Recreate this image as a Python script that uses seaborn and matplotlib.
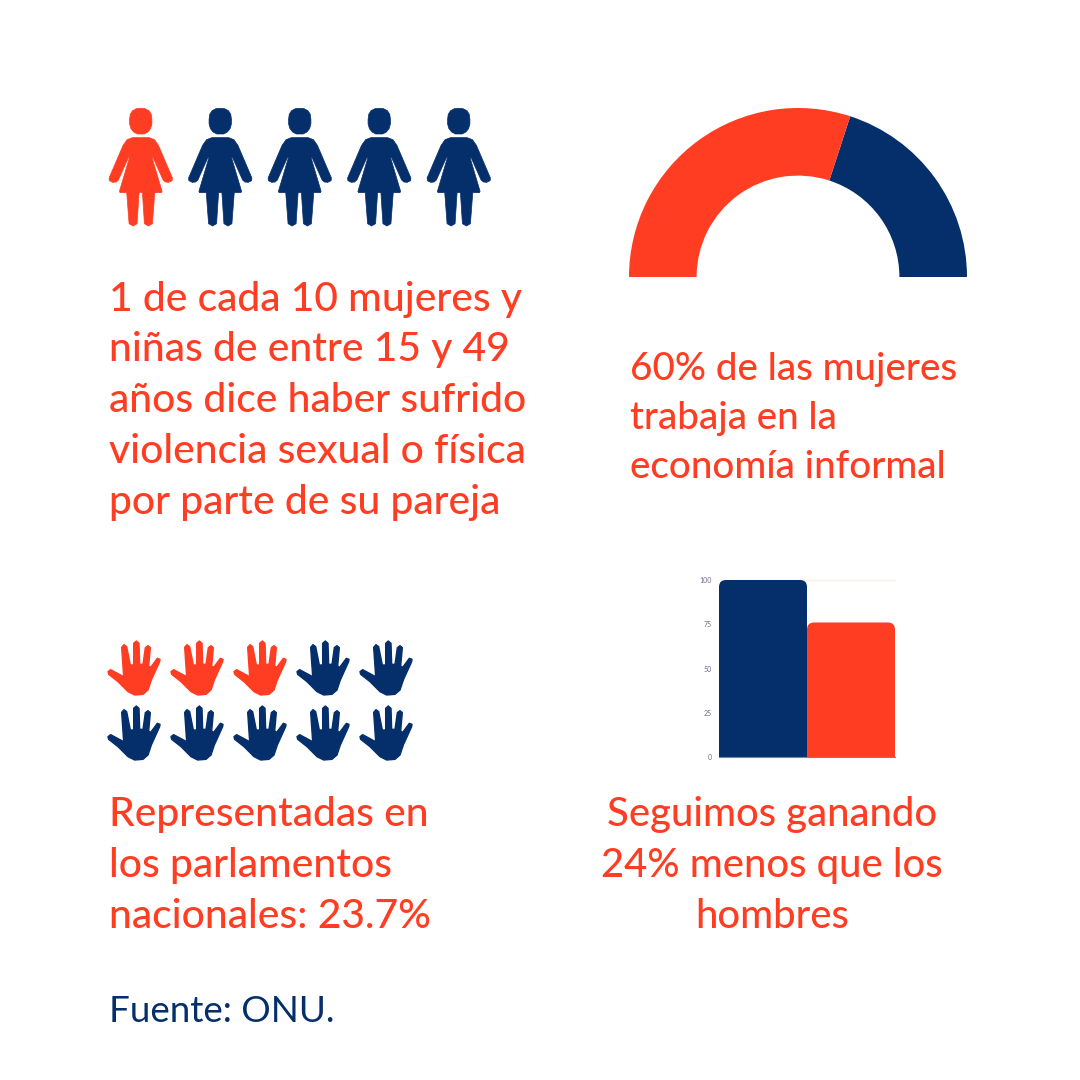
import matplotlib
matplotlib.use("Agg")
import matplotlib.pyplot as plt
from matplotlib.patches import FancyBboxPatch
from matplotlib.path import Path
from matplotlib.transforms import IdentityTransform
import pandas as pd
import seaborn as sns

RED = "#FF3D22"
NAVY = "#042F6B"
FONT = "Lato"

def pixel_axes(left, top, right, bottom):
    """
    Adds an axes placed by pixel edges of the 1080x1080 canvas.
    """
    return plt.axes([left / 1080, 1 - bottom / 1080, (right - left) / 1080, (bottom - top) / 1080])

def outline_marker(points, cx, cy):
    """
    Builds a closed marker path from outline points traced off the picture.
    """
    verts = [(x - cx, cy - y) for x, y in points]
    return Path(verts + [verts[0]], closed=True)

def pictogram(ax, rows, marker, size, n_cols, n_rows, edge=0.5):
    """
    Draws a grid of icons with seaborn, one point per person or hand.
    """
    sns.scatterplot(data=rows, x="col", y="row", hue="group", hue_order=["si", "no"],
                    palette={"si": RED, "no": NAVY}, marker=marker, s=size,
                    linewidth=edge, edgecolor="face", legend=False, ax=ax)
    ax.set_xlim(-0.5, n_cols - 0.5)
    ax.set_ylim(n_rows - 0.5, -0.5)
    ax.axis("off")

def woman_marker():
    """
    Silhouette of a woman: head and body with a skirt.
    """
    right = [(123, 127), (148, 127), (164, 133), (176, 150), (218, 248), (217, 256), (207, 261),
             (197, 260), (190, 254), (160, 187), (157, 187), (187, 288), (185, 292), (165, 292),
             (158, 385), (146, 392), (134, 385), (128, 292)]
    left = [(246 - x, y) for x, y in reversed(right[1:])]
    body = outline_marker(right + left, 123, 215)
    head = outline_marker([(123, 39), (136, 40), (148, 46), (155, 57), (157, 72), (157, 86), (153, 100),
                           (145, 110), (134, 116), (113, 116), (102, 110), (94, 100), (90, 86),
                           (90, 72), (92, 57), (99, 46), (111, 40)], 123.5, 215)
    return Path.make_compound_path(head, body)

def hand_marker():
    """
    Open hand with the thumb to the left.
    """
    points = [(25, 125), (33, 119), (72, 140), (66, 52), (73, 44), (81, 50), (92, 105), (102, 105),
              (102, 40), (110, 33), (118, 40), (120, 103), (130, 103), (137, 53), (145, 47), (152, 53),
              (147, 108), (153, 112), (173, 85), (181, 88), (180, 95), (155, 150), (145, 180),
              (130, 193), (105, 195), (85, 185), (55, 155), (27, 133)]
    return outline_marker(points, 103, 114)

def gauge(ax, values):
    """
    Half donut: the lower half of the pie is left empty.
    """
    # informal share runs from the left end of the arc
    ax.pie([values[1], values[0], sum(values)], startangle=0, colors=[NAVY, RED, "none"],
           radius=1, wedgeprops=dict(width=0.4, linewidth=0))
    ax.set_xlim(-1, 1)
    ax.set_ylim(-1, 1)

def wage_bars(ax, wages):
    """
    Two touching bars with rounded top corners and tiny tick labels.
    """
    sns.barplot(data=wages, x="grupo", y="salario", hue="grupo", palette=[NAVY, RED],
                width=1, saturation=1, legend=False, ax=ax)
    ax.set_xlim(-0.5, 1.5)
    ax.set_ylim(0, 100)
    ax.set_yticks([0, 25, 50, 75, 100])
    ax.set_xticks([])
    ax.set_xlabel("")
    ax.set_ylabel("")
    ax.axhline(100, color="#FFEFEC", linewidth=1, zorder=0, clip_on=False)
    ax.tick_params(axis="y", length=0, pad=5, labelsize=5, labelcolor="#75668F")
    sns.despine(ax=ax, left=True, top=True, right=True)
    ax.spines["bottom"].set_color("#6F86A8")
    ax.figure.canvas.draw()
    for bar in ax.patches:
        box = bar.get_window_extent()
        # extra height below so only the top corners get rounded
        clip = FancyBboxPatch((box.x0 + 7, box.y0 - 20), box.width - 14, box.height + 13,
                              boxstyle="round,pad=7,rounding_size=7", transform=IdentityTransform())
        bar.set_clip_path(clip)

def write_lines(lines, x, baselines, color=RED, size=29.3, ha="left", weight="medium"):
    """
    Writes one text block, a line per baseline given in pixels.
    """
    for line, base in zip(lines, baselines):
        plt.figtext(x / 1080, 1 - base / 1080, line, color=color, fontsize=size, ha=ha,
                    va="baseline", family=FONT, weight=weight)

plt.rcParams["font.family"] = [FONT, "DejaVu Sans"]
plt.figure(figsize=(10.8, 10.8), dpi=100, facecolor="white")

women = pd.DataFrame({"col": [0, 1, 2, 3, 4], "row": [0, 0, 0, 0, 0],
                      "group": ["si", "no", "no", "no", "no"]})
pictogram(pixel_axes(101, 100, 498.5, 234), women, woman_marker(), 7225, 5, 1)

hands = pd.DataFrame({"col": [0, 1, 2, 3, 4, 0, 1, 2, 3, 4],
                      "row": [0, 0, 0, 0, 0, 1, 1, 1, 1, 1],
                      "group": ["si", "si", "si", "no", "no", "no", "no", "no", "no", "no"]})
pictogram(pixel_axes(102.5, 635.5, 417.5, 765.5), hands, hand_marker(), 1512, 5, 2, edge=1)

gauge(pixel_axes(629, 108, 967, 446), [60, 40])

wages = pd.DataFrame({"grupo": ["hombres", "mujeres"], "salario": [100, 76]})
wage_bars(pixel_axes(719, 580, 895, 757), wages)

write_lines(["1 de cada 10 mujeres y", "niñas de entre 15 y 49", "años dice haber sufrido",
             "violencia sexual o física", "por parte de su pareja"], 109, [311, 361, 412, 463, 514])
write_lines(["60% de las mujeres", "trabaja en la", "economía informal"], 630, [380, 429, 478], size=27.8)
write_lines(["Representadas en", "los parlamentos", "nacionales: 23.7%"], 109, [826, 877, 928])
write_lines(["Seguimos ganando", "24% menos que los", "hombres"], 772, [826, 877, 928], ha="center", size=28.8)
write_lines(["Fuente: ONU."], 109, [1022], color=NAVY, size=26.5, weight="regular")

plt.savefig("out.png", dpi=100)
